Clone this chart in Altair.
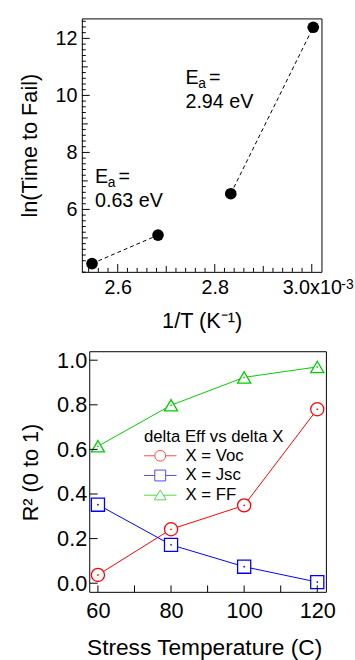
import altair as alt
import pandas as pd

# ---------------- data ----------------
# top panel: Arrhenius plot (x in units of 1e-3 K^-1)
inv_T = [2.547, 2.683, 2.833, 3.003]
ln_ttf = [4.10, 5.10, 6.55, 12.39]
segment = ["low", "low", "high", "high"]

ea_x = [2.553, 2.7395]
ea_y = [6.92, 10.415]
ev_text = ["0.63 eV", "2.94 eV"]
ev_y = [6.09, 9.55]

top_x_major = [2.6, 2.8, 3.0]
top_x_mid = [2.7, 2.9]
top_x_minor = [2.54, 2.56, 2.58, 2.62, 2.64, 2.66, 2.68, 2.72, 2.74, 2.76, 2.78,
               2.82, 2.84, 2.86, 2.88, 2.92, 2.94, 2.96, 2.98]
top_y_major = [6, 8, 10, 12]
top_y_mid = [5, 7, 9, 11]
top_y_minor = [3.8, 4.2, 4.4, 4.6, 4.8, 5.2, 5.4, 5.6, 5.8, 6.2, 6.4, 6.6, 6.8,
               7.2, 7.4, 7.6, 7.8, 8.2, 8.4, 8.6, 8.8, 9.2, 9.4, 9.6, 9.8,
               10.2, 10.4, 10.6, 10.8, 11.2, 11.4, 11.6, 11.8, 12.2, 12.4, 12.6]

# bottom panel
temps = [60, 80, 100, 120]
voc = [0.037, 0.242, 0.349, 0.780]
jsc = [0.352, 0.172, 0.074, 0.005]
ff = [0.614, 0.798, 0.923, 0.970]
series = ["X = Voc", "X = Jsc", "X = FF"]
colors = ["#ff0000", "#0000ff", "#00cc00"]

bot_x_ticks = [60, 70, 80, 90, 100, 110, 120]
bot_y_ticks = [0.0, 0.2, 0.4, 0.6, 0.8, 1.0]

FONT = "Liberation Sans"

# ---------------- top panel ----------------
W1, H1 = 243, 257
xs1 = alt.Scale(domain=[2.526, 3.02], nice=False, zero=False)
ys1 = alt.Scale(domain=[3.81, 12.70], nice=False, zero=False)

top_df = pd.DataFrame({"x": inv_T, "y": ln_ttf, "seg": segment})

lines1 = alt.Chart(top_df).mark_line(
    strokeDash=[4, 3], color="black", strokeWidth=1
).encode(
    x=alt.X("x:Q", scale=xs1, axis=alt.Axis(
        values=top_x_major, title="1/T (K⁻¹)",
        labelExpr="datum.value == 3 ? '3.0x10' : format(datum.value, '.1f')",
        labelFontSize=20, titleFontSize=22, labelPadding=6, titlePadding=13,
        labelFlush=False)),
    y=alt.Y("y:Q", scale=ys1, axis=alt.Axis(
        values=top_y_major, title="ln(Time to Fail)", format="d",
        labelFontSize=20, titleFontSize=22, labelPadding=5, titlePadding=14,
        labelFlush=False)),
    detail="seg:N",
)
pts1 = alt.Chart(top_df).mark_circle(size=140, color="black", opacity=1).encode(
    x="x:Q", y="y:Q")


def xticks(vals, length, h):
    return alt.Chart(pd.DataFrame({"x": vals})).mark_rule(
        color="black", strokeWidth=1).encode(
        x="x:Q", y=alt.value(h), y2=alt.value(h - length))


def yticks(vals, length, x0=0):
    return alt.Chart(pd.DataFrame({"y": vals})).mark_rule(
        color="black", strokeWidth=1).encode(
        y="y:Q", x=alt.value(x0), x2=alt.value(x0 + length))


sup3 = alt.Chart(pd.DataFrame({"x": [3.0]})).mark_text(
    text="-3", align="left", baseline="alphabetic", fontSize=14, font=FONT,
    dx=30, color="black").encode(x="x:Q", y=alt.value(H1 + 17))

ea_df = pd.DataFrame({"x": ea_x, "y": ea_y})
ev_df = pd.DataFrame({"x": ea_x, "y": ev_y, "t": ev_text})
txt_E = alt.Chart(ea_df).mark_text(
    text="E", align="left", baseline="alphabetic", fontSize=20, font=FONT,
    color="black").encode(x="x:Q", y="y:Q")
txt_a = alt.Chart(ea_df).mark_text(
    text="a", align="left", baseline="alphabetic", fontSize=14, font=FONT,
    dx=13, dy=4, color="black").encode(x="x:Q", y="y:Q")
txt_eq = alt.Chart(ea_df).mark_text(
    text="=", align="left", baseline="alphabetic", fontSize=20, font=FONT,
    dx=24, color="black").encode(x="x:Q", y="y:Q")
txt_ev = alt.Chart(ev_df).mark_text(
    align="left", baseline="alphabetic", fontSize=20, font=FONT,
    color="black").encode(x="x:Q", y="y:Q", text="t:N")

top = alt.layer(
    lines1, pts1,
    xticks(top_x_major, 8, H1), xticks(top_x_mid, 6, H1), xticks(top_x_minor, 4, H1),
    yticks(top_y_major, 8), yticks(top_y_mid, 6), yticks(top_y_minor, 4),
    sup3, txt_E, txt_a, txt_eq, txt_ev,
).properties(width=W1, height=H1)

# ---------------- bottom panel ----------------
D = 8            # frame of the lower panel starts D px right of the upper one
FW2, H2 = 240, 244
W2 = FW2 + D
xs2 = alt.Scale(domain=[55.60, 122.5], nice=False, zero=False)
ys2 = alt.Scale(domain=[-0.041, 1.038], nice=False, zero=False)

rows = []
for name, vals in zip(series, [voc, jsc, ff]):
    for t, v in zip(temps, vals):
        rows.append({"x": t, "y": v, "series": name})
bot_df = pd.DataFrame(rows)


def cscale():
    return alt.Scale(domain=series, range=colors)


frame2 = alt.Chart(pd.DataFrame({"a": [0]})).mark_rect(
    filled=False, stroke="black", strokeWidth=1, fill="transparent"
).encode(x=alt.value(D), x2=alt.value(W2), y=alt.value(0), y2=alt.value(H2))

lines2 = alt.Chart(bot_df).mark_line(strokeWidth=1).encode(
    x=alt.X("x:Q", scale=xs2, axis=alt.Axis(
        values=temps, title="Stress Temperature (C)",
        labelFontSize=22, titleFontSize=23, labelPadding=9, titlePadding=15,
        labelFlush=False)),
    y=alt.Y("y:Q", scale=ys2, axis=alt.Axis(
        values=bot_y_ticks, title="R² (0 to 1)", format=".1f", offset=-D,
        labelFontSize=22, titleFontSize=22, labelPadding=3, titlePadding=14,
        labelFlush=False)),
    stroke=alt.Stroke("series:N", scale=cscale(), legend=None),
    detail="series:N",
)
pts2 = alt.Chart(bot_df).mark_point(
    filled=True, fill="white", strokeWidth=1.3, opacity=1, size=177
).encode(
    x="x:Q", y="y:Q",
    stroke=alt.Stroke("series:N", scale=cscale(), legend=None),
    shape=alt.Shape("series:N", scale=alt.Scale(
        domain=series, range=["circle", "square", "triangle-up"]), legend=None),
)
dots2 = alt.Chart(bot_df).mark_circle(size=3, opacity=1).encode(
    x="x:Q", y="y:Q",
    color=alt.Color("series:N", scale=cscale(), legend=None),
)

leg_paths = [
    "M-1.55,0H0.45M2.45,0H4.45M0.45,0A1,1,0,1,0,2.45,0A1,1,0,1,0,0.45,0Z",
    "M-1.55,0H0.45M2.45,0H4.45M0.45,-1H2.45V1H0.45Z",
    "M-1.55,0H0.87M2.03,0H4.45M1.45,-0.95L2.55,0.85L0.35,0.85Z",
]
legend_props = dict(
    title="delta Eff vs delta X", orient="none", legendX=63, legendY=79,
    symbolSize=121, symbolStrokeWidth=1, symbolFillColor="white",
    labelOffset=25, labelFontSize=17, titleFontSize=17, labelFont=FONT,
    titleFont=FONT, titleFontWeight="normal", labelColor="black",
    titleColor="black", padding=0, rowPadding=2, titlePadding=1,
)
leg_layer = alt.Chart(bot_df).transform_filter("false").mark_point(
    filled=False, size=121
).encode(
    x="x:Q", y="y:Q",
    stroke=alt.Stroke("series:N", scale=cscale(), legend=alt.Legend(**legend_props)),
    shape=alt.Shape("series:N", scale=alt.Scale(domain=series, range=leg_paths),
                    legend=alt.Legend(**legend_props)),
)

bottom = alt.layer(
    frame2, lines2, pts2, dots2,
    xticks(bot_x_ticks, 7, H2), yticks(bot_y_ticks, 8, D),
    leg_layer,
).resolve_scale(shape="independent", stroke="independent").properties(
    width=W2, height=H2, view=alt.ViewBackground(stroke="transparent"))

chart = alt.vconcat(top, bottom, spacing=81, bounds="flush").properties(
    padding={"left": 18, "top": 13, "right": 0, "bottom": 0}
).configure_view(
    stroke="black", strokeWidth=1
).configure_axis(
    labelFont=FONT, titleFont=FONT, labelColor="black", titleColor="black",
    titleFontWeight="normal", domain=False, ticks=False, grid=False
)

chart.save("out.html", embed_options={"renderer": "svg", "actions": False})
